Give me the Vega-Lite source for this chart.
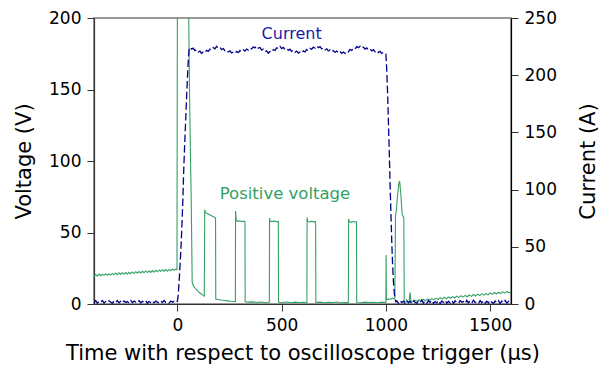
{
  "$schema": "https://vega.github.io/schema/vega-lite/v6.json",
  "width": 417,
  "height": 286,
  "autosize": {"type": "none"},
  "padding": {"left": 94, "top": 18, "right": 96, "bottom": 72},
  "config": {
    "font": "DejaVu Sans",
    "view": {"stroke": "#999999", "strokeWidth": 2},
    "axis": {
      "grid": false,
      "domainColor": "#333333",
      "domainWidth": 1.2,
      "tickColor": "#333333",
      "tickSize": 7,
      "labelPadding": 6,
      "labelFontSize": 17,
      "labelColor": "#000000",
      "titleFontSize": 21,
      "titleFontWeight": "normal",
      "titleColor": "#000000"
    }
  },
  "datasets": {
    "voltage": [
      {"t":-400,"v":19.3},{"t":-392,"v":20.6},{"t":-384,"v":19.5},{"t":-376,"v":20.9},{"t":-368,"v":19.8},
      {"t":-360,"v":20.8},{"t":-352,"v":20.0},{"t":-344,"v":21.2},{"t":-336,"v":20.1},{"t":-328,"v":21.0},
      {"t":-320,"v":20.2},{"t":-312,"v":21.4},{"t":-304,"v":20.4},{"t":-296,"v":21.6},{"t":-288,"v":20.5},
      {"t":-280,"v":21.8},{"t":-272,"v":20.7},{"t":-264,"v":21.9},{"t":-256,"v":20.8},{"t":-248,"v":22.0},
      {"t":-240,"v":21.0},{"t":-232,"v":22.2},{"t":-224,"v":21.2},{"t":-216,"v":22.4},{"t":-208,"v":21.3},
      {"t":-200,"v":22.6},{"t":-192,"v":21.5},{"t":-184,"v":22.7},{"t":-176,"v":21.7},{"t":-168,"v":22.9},
      {"t":-160,"v":21.9},{"t":-152,"v":23.1},{"t":-144,"v":22.0},{"t":-136,"v":23.2},{"t":-128,"v":22.1},
      {"t":-120,"v":23.4},{"t":-112,"v":22.3},{"t":-104,"v":23.6},{"t":-96,"v":22.5},{"t":-88,"v":23.8},
      {"t":-80,"v":22.7},{"t":-72,"v":23.9},{"t":-64,"v":22.9},{"t":-56,"v":24.1},{"t":-48,"v":23.0},
      {"t":-40,"v":24.2},{"t":-32,"v":23.2},{"t":-24,"v":24.4},{"t":-16,"v":23.5},{"t":-8,"v":24.3},
      {"t":-2,"v":24.0},{"t":1,"v":320},{"t":52,"v":320},{"t":54,"v":205},{"t":58,"v":150},
      {"t":62,"v":110},{"t":66,"v":75},{"t":69,"v":40},{"t":71,"v":15},{"t":76,"v":13},
      {"t":85,"v":11},{"t":95,"v":9.5},{"t":105,"v":8},{"t":115,"v":7},{"t":124,"v":6},
      {"t":129,"v":5.5},{"t":131,"v":66},{"t":134,"v":64},{"t":140,"v":63.5},{"t":150,"v":62.8},
      {"t":160,"v":62},{"t":170,"v":61.2},{"t":180,"v":60.5},{"t":183,"v":60.2},{"t":184,"v":3.5},
      {"t":195,"v":3.2},{"t":210,"v":2.8},{"t":225,"v":2.5},{"t":240,"v":2.2},{"t":255,"v":1.9},
      {"t":270,"v":1.7},{"t":278,"v":1.6},{"t":279,"v":65},{"t":282,"v":58.5},{"t":290,"v":57.8},
      {"t":300,"v":58.2},{"t":310,"v":57.6},{"t":320,"v":57.9},{"t":324,"v":57.5},{"t":325,"v":1.6},
      {"t":340,"v":1.3},{"t":360,"v":1.5},{"t":380,"v":1.1},{"t":400,"v":1.4},{"t":420,"v":1.0},
      {"t":441,"v":1.2},{"t":442,"v":60},{"t":445,"v":58},{"t":455,"v":57.6},{"t":465,"v":58.1},
      {"t":475,"v":57.5},{"t":484,"v":57.8},{"t":485,"v":1.2},{"t":505,"v":1.0},{"t":525,"v":1.4},
      {"t":545,"v":0.9},{"t":565,"v":1.3},{"t":585,"v":1.0},{"t":605,"v":1.2},{"t":621,"v":0.9},
      {"t":622,"v":60.5},{"t":625,"v":57.8},{"t":635,"v":57.2},{"t":645,"v":57.9},{"t":655,"v":57.3},
      {"t":663,"v":57.6},{"t":664,"v":1.0},{"t":685,"v":1.3},{"t":705,"v":0.9},{"t":725,"v":1.2},
      {"t":745,"v":1.0},{"t":765,"v":1.4},{"t":785,"v":0.9},{"t":805,"v":1.1},{"t":820,"v":1.0},
      {"t":821,"v":59.5},{"t":824,"v":57.6},{"t":834,"v":57.1},{"t":844,"v":57.8},{"t":852,"v":57.2},
      {"t":859,"v":57.5},{"t":860,"v":1.1},{"t":880,"v":0.9},{"t":900,"v":1.3},{"t":920,"v":1.0},
      {"t":940,"v":1.2},{"t":960,"v":0.9},{"t":980,"v":1.3},{"t":1000,"v":1.1},{"t":1001,"v":34.2},
      {"t":1002.5,"v":3.0},{"t":1010,"v":3.6},{"t":1020,"v":3.2},{"t":1030,"v":4.0},{"t":1038,"v":3.8},
      {"t":1043,"v":4.2},{"t":1046,"v":62},{"t":1050,"v":65},{"t":1056,"v":76},{"t":1062,"v":84},
      {"t":1066,"v":86},{"t":1071,"v":78},{"t":1078,"v":63},{"t":1086,"v":60},{"t":1088,"v":1.8},
      {"t":1100,"v":1.5},{"t":1112,"v":1.7},{"t":1116,"v":8.2},{"t":1120,"v":2.0},{"t":1130,"v":1.6},
      {"t":1140,"v":2.7},{"t":1150,"v":1.8},{"t":1160,"v":3.0},{"t":1170,"v":2.0},{"t":1180,"v":3.2},
      {"t":1190,"v":2.3},{"t":1200,"v":3.6},{"t":1210,"v":2.6},{"t":1220,"v":3.8},{"t":1230,"v":2.9},
      {"t":1240,"v":4.1},{"t":1250,"v":3.1},{"t":1260,"v":4.4},{"t":1270,"v":3.4},{"t":1280,"v":4.7},
      {"t":1290,"v":3.7},{"t":1300,"v":4.9},{"t":1310,"v":4.0},{"t":1320,"v":5.2},{"t":1330,"v":4.2},
      {"t":1340,"v":5.5},{"t":1350,"v":4.5},{"t":1360,"v":5.8},{"t":1370,"v":4.8},{"t":1380,"v":6.0},
      {"t":1390,"v":5.1},{"t":1400,"v":6.3},{"t":1410,"v":5.3},{"t":1420,"v":6.6},{"t":1430,"v":5.6},
      {"t":1440,"v":6.9},{"t":1450,"v":5.9},{"t":1460,"v":7.1},{"t":1470,"v":6.2},{"t":1480,"v":7.4},
      {"t":1490,"v":6.4},{"t":1500,"v":7.7},{"t":1510,"v":6.7},{"t":1520,"v":8.0},{"t":1530,"v":7.0},
      {"t":1540,"v":8.2},{"t":1550,"v":7.3},{"t":1560,"v":8.5},{"t":1570,"v":7.6},{"t":1580,"v":8.8},
      {"t":1590,"v":7.9},{"t":1600,"v":8.6}
    ],
    "current": [
      {"t":-400,"i":1.2},{"t":-392,"i":2.9},{"t":-384,"i":0.8},{"t":-376,"i":2.4},{"t":-368,"i":1.5},
      {"t":-360,"i":3.1},{"t":-352,"i":0.9},{"t":-344,"i":2.2},{"t":-336,"i":1.1},{"t":-328,"i":2.8},
      {"t":-320,"i":1.6},{"t":-312,"i":0.7},{"t":-304,"i":2.6},{"t":-296,"i":1.3},{"t":-288,"i":3.0},
      {"t":-280,"i":1.0},{"t":-272,"i":2.3},{"t":-264,"i":0.8},{"t":-256,"i":2.7},{"t":-248,"i":1.4},
      {"t":-240,"i":2.1},{"t":-232,"i":0.9},{"t":-224,"i":3.2},{"t":-216,"i":1.2},{"t":-208,"i":2.5},
      {"t":-200,"i":1.7},{"t":-192,"i":0.8},{"t":-184,"i":2.9},{"t":-176,"i":1.1},{"t":-168,"i":2.4},
      {"t":-160,"i":1.5},{"t":-152,"i":3.0},{"t":-144,"i":0.7},{"t":-136,"i":2.2},{"t":-128,"i":1.3},
      {"t":-120,"i":2.8},{"t":-112,"i":1.0},{"t":-104,"i":2.5},{"t":-96,"i":1.6},{"t":-88,"i":0.9},
      {"t":-80,"i":2.7},{"t":-72,"i":1.2},{"t":-64,"i":3.1},{"t":-56,"i":1.4},{"t":-48,"i":2.0},
      {"t":-40,"i":0.8},{"t":-32,"i":2.6},{"t":-24,"i":1.5},{"t":-16,"i":2.3},{"t":-8,"i":1.1},
      {"t":-3,"i":1.8},{"t":0,"i":2.5},{"t":4,"i":8},{"t":10,"i":25},{"t":16,"i":45},
      {"t":21,"i":65},{"t":26,"i":90},{"t":30,"i":115},{"t":35,"i":140},{"t":40,"i":162},
      {"t":45,"i":185},{"t":50,"i":205},{"t":54,"i":218},{"t":57,"i":223},
      {"t":60,"i":224.5},{"t":68,"i":222.8},{"t":76,"i":223.6},{"t":84,"i":221.5},{"t":92,"i":222.3},
      {"t":100,"i":220.2},{"t":108,"i":221.1},{"t":116,"i":219.0},{"t":124,"i":220.6},{"t":132,"i":219.7},
      {"t":140,"i":221.8},{"t":148,"i":220.9},{"t":156,"i":222.9},{"t":164,"i":222.0},{"t":172,"i":224.1},
      {"t":180,"i":223.1},{"t":188,"i":225.3},{"t":196,"i":223.5},{"t":204,"i":224.3},{"t":212,"i":222.4},
      {"t":220,"i":223.3},{"t":228,"i":221.4},{"t":236,"i":222.2},{"t":244,"i":220.3},{"t":252,"i":221.2},
      {"t":260,"i":219.4},{"t":268,"i":220.3},{"t":276,"i":219.1},{"t":284,"i":220.9},{"t":292,"i":219.8},
      {"t":300,"i":221.6},{"t":308,"i":220.5},{"t":316,"i":222.2},{"t":324,"i":221.1},{"t":332,"i":222.9},
      {"t":340,"i":221.9},{"t":348,"i":223.8},{"t":356,"i":222.9},{"t":364,"i":224.8},{"t":372,"i":223.8},
      {"t":380,"i":225.6},{"t":388,"i":223.6},{"t":396,"i":224.2},{"t":404,"i":222.0},{"t":412,"i":222.8},
      {"t":420,"i":220.6},{"t":428,"i":221.3},{"t":436,"i":219.2},{"t":444,"i":220.6},{"t":452,"i":219.9},
      {"t":460,"i":222.3},{"t":468,"i":221.6},{"t":476,"i":223.9},{"t":484,"i":223.2},{"t":492,"i":225.2},
      {"t":500,"i":223.3},{"t":508,"i":224.3},{"t":516,"i":222.5},{"t":524,"i":223.5},{"t":532,"i":221.7},
      {"t":540,"i":222.7},{"t":548,"i":220.9},{"t":556,"i":221.9},{"t":564,"i":220.0},{"t":572,"i":221.1},
      {"t":580,"i":219.3},{"t":588,"i":220.3},{"t":596,"i":219.2},{"t":604,"i":221.2},{"t":612,"i":220.3},
      {"t":620,"i":222.4},{"t":628,"i":221.4},{"t":636,"i":223.5},{"t":644,"i":222.6},{"t":652,"i":224.6},
      {"t":660,"i":223.7},{"t":668,"i":225.6},{"t":676,"i":224.0},{"t":684,"i":224.9},{"t":692,"i":223.0},
      {"t":700,"i":224.0},{"t":708,"i":222.1},{"t":716,"i":223.1},{"t":724,"i":221.2},{"t":732,"i":222.2},
      {"t":740,"i":220.4},{"t":748,"i":221.5},{"t":756,"i":219.9},{"t":764,"i":221.1},{"t":772,"i":219.5},
      {"t":780,"i":220.8},{"t":788,"i":219.1},{"t":796,"i":220.3},{"t":804,"i":219.2},{"t":812,"i":221.2},
      {"t":820,"i":220.3},{"t":828,"i":222.5},{"t":836,"i":221.6},{"t":844,"i":223.7},{"t":852,"i":222.9},
      {"t":860,"i":225.0},{"t":868,"i":224.1},{"t":876,"i":225.4},{"t":884,"i":223.6},{"t":892,"i":224.6},
      {"t":900,"i":222.8},{"t":908,"i":223.8},{"t":916,"i":222.0},{"t":924,"i":223.0},{"t":932,"i":221.2},
      {"t":940,"i":222.3},{"t":948,"i":220.5},{"t":956,"i":221.6},{"t":964,"i":219.8},{"t":972,"i":220.9},
      {"t":980,"i":219.0},{"t":988,"i":220.1},{"t":996,"i":219.3},
      {"t":1000,"i":218.5},{"t":1004,"i":205},{"t":1008,"i":185},{"t":1012,"i":160},{"t":1016,"i":134},
      {"t":1020,"i":105},{"t":1024,"i":80},{"t":1028,"i":55},{"t":1032,"i":35},{"t":1036,"i":20},
      {"t":1040,"i":10},{"t":1044,"i":4},{"t":1048,"i":2},
      {"t":1052,"i":2.8},{"t":1060,"i":0.6},{"t":1068,"i":3.1},{"t":1076,"i":1.2},{"t":1084,"i":2.5},
      {"t":1092,"i":0.4},{"t":1100,"i":3.3},{"t":1108,"i":1.0},{"t":1116,"i":2.2},{"t":1124,"i":0.7},
      {"t":1132,"i":3.0},{"t":1140,"i":1.5},{"t":1148,"i":0.5},{"t":1156,"i":2.7},{"t":1164,"i":1.1},
      {"t":1172,"i":3.4},{"t":1180,"i":0.8},{"t":1188,"i":2.3},{"t":1196,"i":0.5},{"t":1204,"i":2.9},
      {"t":1212,"i":1.3},{"t":1220,"i":3.2},{"t":1228,"i":0.6},{"t":1236,"i":2.1},{"t":1244,"i":1.0},
      {"t":1252,"i":3.0},{"t":1260,"i":0.4},{"t":1268,"i":2.6},{"t":1276,"i":1.4},{"t":1284,"i":3.3},
      {"t":1292,"i":0.7},{"t":1300,"i":2.4},{"t":1308,"i":0.9},{"t":1316,"i":3.1},{"t":1324,"i":0.5},
      {"t":1332,"i":2.8},{"t":1340,"i":1.2},{"t":1348,"i":0.6},{"t":1356,"i":3.0},{"t":1364,"i":1.6},
      {"t":1372,"i":2.2},{"t":1380,"i":0.4},{"t":1388,"i":3.2},{"t":1396,"i":1.0},{"t":1404,"i":2.7},
      {"t":1412,"i":0.8},{"t":1420,"i":3.4},{"t":1428,"i":1.3},{"t":1436,"i":2.0},{"t":1444,"i":0.5},
      {"t":1452,"i":2.9},{"t":1460,"i":1.1},{"t":1468,"i":3.1},{"t":1476,"i":0.7},{"t":1484,"i":2.4},
      {"t":1492,"i":0.9},{"t":1500,"i":3.3},{"t":1508,"i":1.5},{"t":1516,"i":0.6},{"t":1524,"i":2.6},
      {"t":1532,"i":1.2},{"t":1540,"i":3.0},{"t":1548,"i":0.4},{"t":1556,"i":2.5},{"t":1564,"i":1.0},
      {"t":1572,"i":3.2},{"t":1580,"i":0.8},{"t":1588,"i":2.3},{"t":1596,"i":1.4},{"t":1600,"i":2.0}
    ]
  },
  "layer": [
    {
      "encoding": {
        "x": {
          "field": "t", "type": "quantitative",
          "scale": {"domain": [-400, 1600], "nice": false},
          "axis": {"values": [0, 500, 1000, 1500], "format": "d", "title": "Time with respect to oscilloscope trigger (µs)", "titlePadding": 9}
        },
        "y": {
          "field": "v", "type": "quantitative",
          "scale": {"domain": [0, 200], "nice": false},
          "axis": {
            "orient": "left", "values": [0, 50, 100, 150, 200], "title": "Voltage (V)",
            "titleAngle": -90, "titleX": -70, "titleY": 143, "titleAlign": "center", "titleBaseline": "middle"
          }
        }
      },
      "layer": [
        {
          "data": {"name": "voltage"},
          "mark": {"type": "line", "color": "#33a065", "strokeWidth": 1.1, "clip": true}
        },
        {
          "data": {"values": [{"t": 516, "v": 73.5, "label": "Positive voltage"}]},
          "mark": {"type": "text", "color": "#33a065", "fontSize": 16.5, "align": "center", "baseline": "alphabetic"},
          "encoding": {"text": {"field": "label"}}
        }
      ]
    },
    {
      "encoding": {
        "x": {"field": "t", "type": "quantitative"},
        "y": {
          "field": "i", "type": "quantitative",
          "scale": {"domain": [0, 250], "nice": false},
          "axis": {
            "orient": "right", "values": [0, 50, 100, 150, 200, 250], "title": "Current (A)",
            "titleAngle": -90, "titleX": 77, "titleY": 143, "titleAlign": "center", "titleBaseline": "middle",
            "domainColor": "#000000"
          }
        }
      },
      "layer": [
        {
          "data": {"name": "current"},
          "mark": {"type": "line", "color": "#00008b", "strokeWidth": 1.3, "strokeDash": [7.5, 3.2], "clip": true}
        },
        {
          "data": {"values": [{"t": 548, "i": 232, "label": "Current"}]},
          "mark": {"type": "text", "color": "#1a1aa6", "fontSize": 16, "align": "center", "baseline": "alphabetic"},
          "encoding": {"text": {"field": "label"}}
        }
      ]
    }
  ],
  "resolve": {"scale": {"y": "independent"}}
}
